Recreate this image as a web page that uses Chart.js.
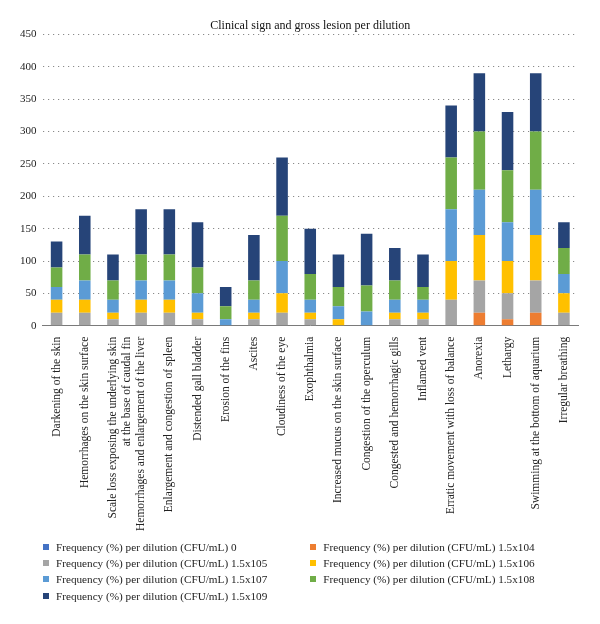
<!DOCTYPE html>
<html>
<head>
<meta charset="utf-8">
<script src="https://cdn.jsdelivr.net/npm/chart.js@4/dist/chart.umd.min.js"></script>
<style>
  html, body { margin: 0; padding: 0; background: #fff; }
  #wrap { position: relative; width: 600px; height: 624px; }
  #chartBox { position: absolute; left: 0; top: 0; width: 600px; height: 544px; }
  #legend { position: absolute; left: 42.7px; top: 539px; display: grid;
    grid-template-columns: 267.3px 267.3px; grid-auto-rows: 16.2px;
    font-family: 'Liberation Serif', 'Times New Roman', serif; font-size: 11.2px; color: #222; }
  .li { display: flex; align-items: center; white-space: nowrap; }
  .sw { width: 6px; height: 6px; margin-right: 7.3px; flex: none; }
</style>
</head>
<body>
<div id="wrap">
  <div id="chartBox"><canvas id="c"></canvas></div>
  <div id="legend"></div>
</div>
<script>
const categories = [
  "Darkening of the skin",
  "Hemorrhages on the skin surface",
  ["Scale loss exposing the underlying skin", "at the base of caudal fin"],
  "Hemorrhages and enlargement of the liver",
  "Enlargement and congestion of spleen",
  "Distended gall bladder",
  "Erosion of the fins",
  "Ascites",
  "Cloudiness of the eye",
  "Exophthalmia",
  "Increased mucus on the skin surface",
  "Congestion of the operculum",
  "Congested and hemorrhagic gills",
  "Inflamed vent",
  "Erratic movement with loss of balance",
  "Anorexia",
  "Lethargy",
  "Swimming at the bottom of aquarium",
  "Irregular breathing"
];

const seriesNames = [
  "Frequency (%) per dilution (CFU/mL) 0",
  "Frequency (%) per dilution (CFU/mL) 1.5x104",
  "Frequency (%) per dilution (CFU/mL) 1.5x105",
  "Frequency (%) per dilution (CFU/mL) 1.5x106",
  "Frequency (%) per dilution (CFU/mL) 1.5x107",
  "Frequency (%) per dilution (CFU/mL) 1.5x108",
  "Frequency (%) per dilution (CFU/mL) 1.5x109"
];

const seriesColors = ["#4472C4", "#ED7D31", "#A5A5A5", "#FFC000", "#5B9BD5", "#70AD47", "#264478"];

const dil0   = [0, 0, 0, 0, 0, 0, 0, 0, 0, 0, 0, 0, 0, 0, 0, 0, 0, 0, 0];
const dil104 = [0, 0, 0, 0, 0, 0, 0, 0, 0, 0, 0, 0, 0, 0, 0, 20, 10, 20, 0];
const dil105 = [20, 20, 10, 20, 20, 10, 0, 10, 20, 10, 0, 0, 10, 10, 40, 50, 40, 50, 20];
const dil106 = [20, 20, 10, 20, 20, 10, 0, 10, 30, 10, 10, 0, 10, 10, 60, 70, 50, 70, 30];
const dil107 = [20, 30, 20, 30, 30, 30, 10, 20, 50, 20, 20, 22, 20, 20, 80, 70, 60, 70, 30];
const dil108 = [30, 40, 30, 40, 40, 40, 20, 30, 70, 40, 30, 40, 30, 20, 80, 90, 80, 90, 40];
const dil109 = [40, 60, 40, 70, 70, 70, 30, 70, 90, 70, 50, 80, 50, 50, 80, 90, 90, 90, 40];

const yTicks = [0, 50, 100, 150, 200, 250, 300, 350, 400, 450];

const seriesData = [dil0, dil104, dil105, dil106, dil107, dil108, dil109];
const SERIF = "'Liberation Serif', 'Times New Roman', serif";

const chart = new Chart(document.getElementById('c'), {
  type: 'bar',
  data: {
    labels: categories,
    datasets: seriesData.map((d, i) => ({
      label: seriesNames[i],
      data: d,
      backgroundColor: seriesColors[i],
      borderWidth: 0,
      barPercentage: 0.41,
      categoryPercentage: 1.0
    }))
  },
  options: {
    responsive: true,
    maintainAspectRatio: false,
    animation: false,
    devicePixelRatio: 1,
    layout: { padding: { left: 14, right: 22, top: 0, bottom: 2 } },
    plugins: {
      legend: { display: false },
      tooltip: { enabled: false },
      title: {
        display: true,
        text: "Clinical sign and gross lesion per dilution",
        fullSize: false,
        color: '#111',
        font: { family: SERIF, size: 12, weight: 'normal' },
        padding: { top: 19, bottom: 1 }
      }
    },
    scales: {
      x: {
        stacked: true,
        grid: { display: false, drawTicks: false },
        border: { display: true, color: '#7a7a7a', width: 1 },
        ticks: {
          autoSkip: false, minRotation: 90, maxRotation: 90, padding: 11,
          color: '#222', font: { family: SERIF, size: 11.5 }
        }
      },
      y: {
        stacked: true,
        min: 0, max: 450,
        afterBuildTicks: (axis) => { axis.ticks = yTicks.map(v => ({ value: v })); },
        grid: {
          drawTicks: false,
          color: (ctx) => (ctx.tick && ctx.tick.value === 0) ? 'rgba(0,0,0,0)' : '#8a8a8a',
          lineWidth: 1
        },
        border: { display: false, dash: [1.2, 3.8] },
        ticks: { padding: 6, color: '#222', font: { family: SERIF, size: 11 } }
      }
    }
  }
});

// HTML legend built from the chart's datasets
const order = [0, 1, 2, 3, 4, 5, 6];
const leg = document.getElementById('legend');
order.forEach(i => {
  const ds = chart.data.datasets[i];
  const item = document.createElement('div');
  item.className = 'li';
  const sw = document.createElement('span');
  sw.className = 'sw';
  sw.style.background = ds.backgroundColor;
  const tx = document.createElement('span');
  tx.textContent = ds.label;
  item.appendChild(sw);
  item.appendChild(tx);
  leg.appendChild(item);
});
</script>
</body>
</html>
